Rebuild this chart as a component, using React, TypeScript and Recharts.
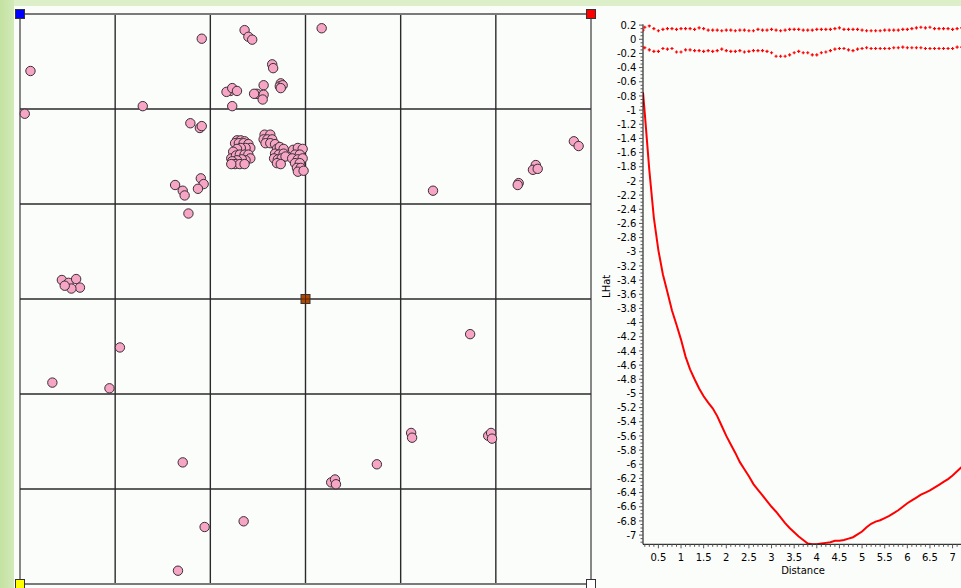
import React from 'react';
import { ScatterChart, Scatter, XAxis, YAxis, ReferenceLine, LineChart, Line } from 'recharts';

// study area grid, 100 units per cell
const gridValues = [0, 100, 200, 300, 400, 500, 600];

const sitePoints: [number, number][] = [
  [11, 540], [5, 495], [191, 574], [236, 583], [240, 576], [244, 573], [265, 547], [266, 543],
  [274, 527], [273, 524], [276, 525], [274, 522], [221, 519], [217, 518], [223, 522], [228, 519],
  [223, 503], [256, 525], [249, 516], [256, 515], [255, 510], [246, 516], [129, 503], [179, 485],
  [189, 480], [191, 482], [163, 420], [171, 414], [173, 409], [190, 427], [193, 421], [187, 416],
  [177, 390],
  [44, 320], [51, 317], [59, 321], [63, 312], [54, 311], [47, 314],
  [317, 585], [582, 466], [587, 461], [542, 441], [539, 436], [544, 437], [524, 422], [523, 420],
  [434, 414],
  [34, 212], [94, 206], [105, 249], [171, 128], [194, 60], [235, 66], [166, 14],
  [473, 263], [411, 159], [412, 154], [492, 156], [495, 159], [496, 153], [375, 126],
  [327, 107], [331, 110], [332, 105],
  // dense cluster west
  [228, 467], [232, 467], [236, 466], [226, 464], [230, 464], [235, 464], [240, 463], [242, 459],
  [237, 459], [232, 459], [228, 458], [224, 455], [222, 448], [227, 451], [231, 452], [236, 452],
  [240, 452], [242, 448], [237, 446], [233, 447], [228, 446], [223, 445], [226, 442], [231, 442],
  [236, 442], [222, 442],
  // dense cluster middle
  [257, 473], [263, 473], [256, 468], [260, 468], [265, 468], [258, 464], [263, 464], [268, 463],
  [270, 458], [273, 460], [277, 458], [268, 453], [272, 452], [277, 453], [267, 448], [271, 447],
  [275, 448], [279, 450], [270, 443], [274, 442],
  // dense cluster east
  [287, 457], [292, 459], [297, 458], [289, 452], [294, 452], [286, 448], [292, 447], [297, 448],
  [289, 443], [294, 443], [291, 438], [295, 438], [292, 434], [298, 435],
];

const cornerMarks = [
  { x: 0, y: 600, color: '#0000ff' },
  { x: 600, y: 600, color: '#ff0000' },
  { x: 0, y: 0, color: '#ffff00' },
  { x: 300, y: 300, color: '#b04800' },
  { x: 600, y: 0, color: '#ffffff' },
];

const distance = [
  0.16, 0.2, 0.3, 0.4, 0.5, 0.6, 0.7, 0.8, 0.9, 1.0, 1.1, 1.2, 1.3, 1.4, 1.5, 1.6, 1.7, 1.8, 1.9,
  2.0, 2.1, 2.2, 2.3, 2.4, 2.5, 2.6, 2.7, 2.8, 2.9, 3.0, 3.1, 3.2, 3.3, 3.4, 3.5, 3.6, 3.7, 3.8,
  3.9, 4.0, 4.1, 4.2, 4.3, 4.4, 4.5, 4.6, 4.7, 4.8, 4.9, 5.0, 5.1, 5.2, 5.3, 5.4, 5.5, 5.6, 5.7,
  5.8, 5.9, 6.0, 6.1, 6.2, 6.3, 6.4, 6.5, 6.6, 6.7, 6.8, 6.9, 7.0, 7.1, 7.2, 7.3,
];
const lhat = [
  -0.75, -1.05, -1.85, -2.52, -2.98, -3.32, -3.57, -3.83, -4.03, -4.24, -4.48, -4.66, -4.8, -4.93,
  -5.04, -5.13, -5.21, -5.32, -5.46, -5.6, -5.72, -5.84, -5.97, -6.07, -6.17, -6.28, -6.36, -6.44,
  -6.52, -6.6, -6.67, -6.75, -6.83, -6.9, -6.96, -7.02, -7.07, -7.12, -7.13, -7.13, -7.12, -7.11,
  -7.1, -7.08, -7.08, -7.07, -7.05, -7.03, -6.99, -6.95, -6.89, -6.84, -6.81, -6.79, -6.76, -6.73,
  -6.69, -6.65, -6.6, -6.55, -6.51, -6.47, -6.43, -6.4, -6.37, -6.33, -6.29, -6.25, -6.21, -6.16,
  -6.1, -6.04, -5.98,
];
const upperEnv = [
  0.13, 0.17, 0.19, 0.15, 0.12, 0.14, 0.15, 0.15, 0.14, 0.15, 0.15, 0.15, 0.14, 0.16, 0.15, 0.13,
  0.13, 0.13, 0.12, 0.13, 0.13, 0.12, 0.13, 0.13, 0.12, 0.12, 0.14, 0.13, 0.13, 0.14, 0.13, 0.12,
  0.13, 0.14, 0.14, 0.14, 0.13, 0.13, 0.13, 0.14, 0.14, 0.14, 0.14, 0.15, 0.16, 0.14, 0.14, 0.14,
  0.14, 0.13, 0.12, 0.12, 0.12, 0.12, 0.13, 0.13, 0.13, 0.13, 0.14, 0.14, 0.15, 0.16, 0.17, 0.16,
  0.17, 0.15, 0.15, 0.15, 0.15, 0.14, 0.15, 0.16, 0.15,
];
const lowerEnv = [
  -0.12, -0.12, -0.15, -0.17, -0.17, -0.13, -0.14, -0.13, -0.18, -0.18, -0.15, -0.15, -0.16, -0.16,
  -0.17, -0.16, -0.17, -0.16, -0.14, -0.16, -0.17, -0.17, -0.16, -0.18, -0.17, -0.16, -0.16, -0.16,
  -0.17, -0.19, -0.24, -0.24, -0.24, -0.22, -0.19, -0.17, -0.19, -0.19, -0.22, -0.22, -0.19, -0.18,
  -0.16, -0.14, -0.13, -0.13, -0.15, -0.16, -0.14, -0.13, -0.12, -0.13, -0.13, -0.13, -0.13, -0.13,
  -0.12, -0.12, -0.11, -0.12, -0.12, -0.12, -0.12, -0.13, -0.13, -0.13, -0.13, -0.13, -0.13, -0.13,
  -0.11, -0.11, -0.11,
];

const xMajorTicks = [0.5, 1, 1.5, 2, 2.5, 3, 3.5, 4, 4.5, 5, 5.5, 6, 6.5, 7];
const yMajorTicks = [
  0.2, 0, -0.2, -0.4, -0.6, -0.8, -1, -1.2, -1.4, -1.6, -1.8, -2, -2.2, -2.4, -2.6, -2.8, -3, -3.2,
  -3.4, -3.6, -3.8, -4, -4.2, -4.4, -4.6, -4.8, -5, -5.2, -5.4, -5.6, -5.8, -6, -6.2, -6.4, -6.6,
  -6.8, -7,
];

// minor ticks (0.1 on distance, 0.05 on LHat)
const xTicks: number[] = [];
for (let i = 2; i <= 72; i++) xTicks.push(i / 10);
const yTicks: number[] = [];
for (let i = 4; i >= -142; i--) yTicks.push(i / 20);

const siteRows = sitePoints.map(([x, y]) => ({ x, y }));
const lhatRows = distance.map((d, i) => ({ d, lhat: lhat[i], upper: upperEnv[i], lower: lowerEnv[i] }));

const FONT = 'DejaVu Sans';
const findMajor = (v: number, list: number[]) => list.find((t) => Math.abs(t - v) < 1e-6);

const SiteDot = (p: any) => {
  if (p.cx == null || p.cy == null) return null;
  return <circle cx={p.cx} cy={p.cy} r={4.7} fill="#f6a5c5" stroke="#3a2f34" strokeWidth={1} />;
};

const CornerMark = (p: any) => {
  if (p.cx == null) return null;
  const s = 4.5;
  const color = p.payload?.color ?? p.color;
  return (
    <g>
      <rect x={p.cx - s} y={p.cy - s} width={s * 2} height={s * 2} fill={color} stroke="#333" strokeWidth={1} />
      {color === '#b04800' && (
        <path d={`M${p.cx - s} ${p.cy}H${p.cx + s}M${p.cx} ${p.cy - s}V${p.cy + s}`} stroke="#5a2400" strokeWidth={1} />
      )}
    </g>
  );
};

const PlusDot = (p: any) => {
  if (p.cx == null || p.cy == null || p.value == null || Number.isNaN(p.cy)) return <g key={p.key} />;
  const { cx, cy } = p;
  return (
    <path key={p.key} d={`M${cx - 1.6} ${cy}H${cx + 1.6}M${cx} ${cy - 1.6}V${cy + 1.6}`} stroke="#ff0000" strokeWidth={1.2} />
  );
};

const XTick = (props: any) => {
  const { x, y, payload } = props;
  const major = findMajor(payload.value, xMajorTicks);
  return (
    <g>
      <line x1={x} y1={y} x2={x} y2={y + (major !== undefined ? 4 : 2.5)} stroke="#555" />
      {major !== undefined && (
        <text x={x} y={y + 16.4} textAnchor="middle" fontSize={10} fontFamily={FONT} fill="#000">
          {String(major)}
        </text>
      )}
    </g>
  );
};

const YTick = (props: any) => {
  const { x, y, payload } = props;
  const major = findMajor(payload.value, yMajorTicks);
  return (
    <g>
      <line x1={x} y1={y} x2={x - (major !== undefined ? 4 : 2.5)} y2={y} stroke="#555" />
      {major !== undefined && (
        <text x={x - 6.6} y={y + 3.6} textAnchor="end" fontSize={10} fontFamily={FONT} fill="#000">
          {String(major)}
        </text>
      )}
    </g>
  );
};

const LHatLabel = (props: any) => {
  const vb = props.viewBox || {};
  const cx = (vb.x ?? 0) + 7;
  const cy = (vb.y ?? 0) + (vb.height ?? 0) / 2 + 2;
  return (
    <text x={cx} y={cy} transform={`rotate(-90 ${cx} ${cy})`} textAnchor="middle" dominantBaseline="central" fontSize={10} fontFamily={FONT} fill="#000">
      LHat
    </text>
  );
};

function MapPanel() {
  return (
    <ScatterChart width={600} height={588} margin={{ top: 14, right: 9, bottom: 4, left: 20 }}>
      <XAxis type="number" dataKey="x" domain={[0, 600]} hide />
      <YAxis type="number" dataKey="y" domain={[0, 600]} hide />
      {gridValues.map((v) => (
        <ReferenceLine key={`gx${v}`} x={v} ifOverflow="visible" stroke={v === 0 || v === 600 ? '#7a7a7a' : '#2a2a2a'} strokeWidth={v === 0 || v === 600 ? 1.8 : 1.4} />
      ))}
      {gridValues.map((v) => (
        <ReferenceLine key={`gy${v}`} y={v} ifOverflow="visible" stroke={v === 0 || v === 600 ? '#7a7a7a' : '#2a2a2a'} strokeWidth={v === 0 || v === 600 ? 1.8 : 1.4} />
      ))}
      <Scatter data={siteRows} shape={<SiteDot />} isAnimationActive={false} />
      <Scatter data={cornerMarks} shape={<CornerMark />} isAnimationActive={false} />
    </ScatterChart>
  );
}

function LHatPanel() {
  return (
    <LineChart width={363} height={588} data={lhatRows} margin={{ top: 24.4, right: 0, bottom: 0, left: 0 }}>
      <XAxis
        type="number"
        dataKey="d"
        domain={[0.16, 7.23]}
        allowDataOverflow
        ticks={xTicks}
        interval={0}
        tick={<XTick />}
        tickLine={false}
        tickSize={0}
        tickMargin={0}
        height={43.7}
        axisLine={{ stroke: '#000' }}
        label={{ value: 'Distance', position: 'insideBottom', offset: 14, fontSize: 10, fontFamily: FONT, fill: '#000' }}
      />
      <YAxis
        type="number"
        domain={[-7.13, 0.21]}
        allowDataOverflow
        ticks={yTicks}
        interval={0}
        tick={<YTick />}
        tickLine={false}
        tickSize={0}
        tickMargin={0}
        width={43}
        axisLine={{ stroke: '#000' }}
        label={<LHatLabel />}
      />
      <Line dataKey="upper" stroke="none" dot={(p: any) => <PlusDot {...p} />} activeDot={false} isAnimationActive={false} />
      <Line dataKey="lower" stroke="none" dot={(p: any) => <PlusDot {...p} />} activeDot={false} isAnimationActive={false} />
      <Line dataKey="lhat" stroke="#ff0000" strokeWidth={2} dot={false} activeDot={false} isAnimationActive={false} />
    </LineChart>
  );
}

export default function App() {
  return (
    <div style={{ position: 'absolute', left: 0, top: 0, width: 961, height: 588, overflow: 'hidden', background: '#dcefc9' }}>
      <div style={{ position: 'absolute', left: 0, top: 0, width: 14, height: 588, background: 'linear-gradient(to right, #c4e2a1, #d2eab8)' }} />
      <div style={{ position: 'absolute', left: 14, top: 6, right: 0, bottom: 0, background: '#fbfdfb' }} />
      <div style={{ position: 'absolute', left: 0, top: 0 }}>
        <MapPanel />
      </div>
      <div style={{ position: 'absolute', left: 600, top: 0 }}>
        <LHatPanel />
      </div>
    </div>
  );
}
